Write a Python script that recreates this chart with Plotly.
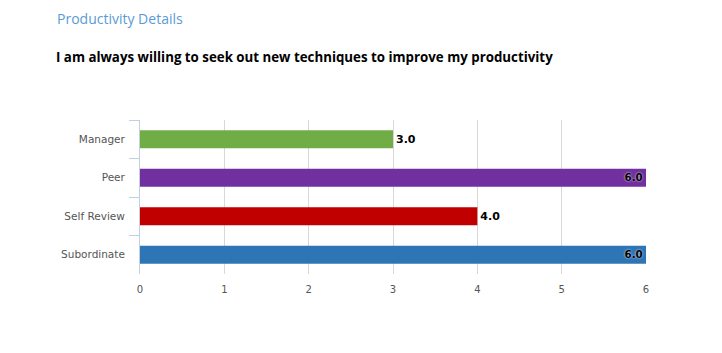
import plotly.graph_objects as go

categories = ["Manager", "Peer", "Self Review", "Subordinate"]
values = [3.0, 6.0, 4.0, 6.0]
colors = ["#70AD47", "#7030A0", "#C00000", "#2E75B6"]
x_ticks = [0, 1, 2, 3, 4, 5, 6]

labels = [f"{v:.1f}" for v in values]
positions = ["inside" if v >= 6 else "outside" for v in values]

fig = go.Figure()
fig.add_trace(go.Bar(
    x=values, y=categories, orientation="h",
    marker=dict(color=colors, line=dict(width=0)),
    text=labels, textposition=positions,
    insidetextanchor="end",
    textfont=dict(family="DejaVu Sans", size=11, color="#000000", weight="bold",
                  shadow="0px 0px 2px #ffffff"),
    cliponaxis=False,
    hoverinfo="skip",
))

fig.update_layout(
    width=722, height=353,
    margin=dict(l=140, r=76, t=120, b=79),
    paper_bgcolor="#ffffff", plot_bgcolor="#ffffff",
    showlegend=False,
    bargap=0.53,
    font=dict(family="DejaVu Sans", size=11, color="#555555"),
)

plot_w = 722 - 140 - 76
plot_h = 353 - 120 - 79
def px_x(px):
    return (px - 140) / plot_w
def px_y(py):
    return 1 - (py - 120) / plot_h

fig.add_annotation(text="Productivity Details", xref="paper", yref="paper",
                   x=px_x(55), y=px_y(19), xanchor="left", yanchor="middle",
                   showarrow=False,
                   font=dict(family="Open Sans", size=14, color="#5B9BD5"))
fig.add_annotation(text="<b>I am always willing to seek out new techniques to improve my productivity</b>",
                   xref="paper", yref="paper",
                   x=px_x(54), y=px_y(57), xanchor="left", yanchor="middle",
                   showarrow=False,
                   font=dict(family="Open Sans", size=13.3, color="#000000"))

fig.update_xaxes(
    range=[0, 6], tickvals=x_ticks, ticktext=[str(t) for t in x_ticks],
    showgrid=True, gridcolor="#d8d8d8", gridwidth=1,
    zeroline=False, showline=False, ticks="",
    tickfont=dict(family="DejaVu Sans", size=10, color="#555555"),
    ticklabelstandoff=8,
)
fig.update_yaxes(
    categoryorder="array", categoryarray=categories, autorange="reversed",
    showline=True, linecolor="#c0d0e0", linewidth=1,
    ticks="outside", tickson="boundaries", ticklen=10, tickcolor="#c0d0e0",
    showgrid=False, zeroline=False,
    tickfont=dict(family="DejaVu Sans", size=10.5, color="#555555"),
    ticklabelstandoff=12,
)

fig.write_html("out.html")
